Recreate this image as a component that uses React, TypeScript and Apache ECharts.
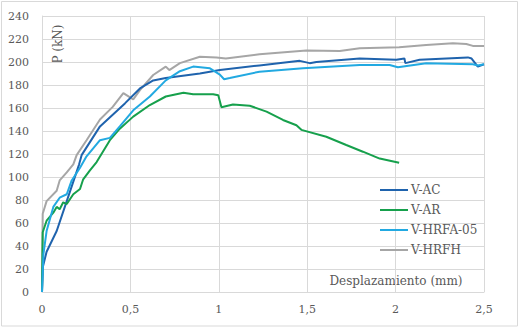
import React, { useEffect, useRef } from "react";
import * as echarts from "echarts";

const seriesNames = ["V-AC", "V-AR", "V-HRFA-05", "V-HRFH"];
const seriesColors = ["#1F63AD", "#16A04C", "#22A9E1", "#A6A6A6"];

const vAC: [number, number][] = [
  [0, 0], [0.005, 22], [0.026, 35], [0.083, 53], [0.14, 79], [0.21, 111], [0.224, 119],
  [0.328, 144], [0.469, 164], [0.554, 177], [0.629, 184], [0.70, 186], [0.893, 190],
  [1.006, 193], [1.23, 197], [1.458, 201], [1.514, 199], [1.552, 200], [1.797, 203],
  [2.004, 202], [2.05, 203], [2.055, 199], [2.136, 202], [2.409, 204], [2.43, 203],
  [2.465, 196], [2.5, 198],
];

const vAR: [number, number][] = [
  [0, 0], [0.004, 52], [0.026, 62], [0.064, 69], [0.083, 74], [0.10, 72], [0.12, 78],
  [0.14, 76.5], [0.177, 85], [0.215, 89.6], [0.233, 98], [0.27, 105.5], [0.309, 113],
  [0.384, 132], [0.44, 142], [0.516, 152.5], [0.61, 162.6], [0.70, 170], [0.80, 173.3],
  [0.855, 171.9], [0.968, 172], [0.997, 171], [1.015, 160.6], [1.08, 163], [1.175, 162],
  [1.27, 156.8], [1.363, 149.6], [1.439, 145], [1.467, 141], [1.608, 135], [1.721, 127.8],
  [1.815, 122], [1.91, 116], [2.02, 112.4],
];

const vHRFA05: [number, number][] = [
  [0, 0], [0.008, 33], [0.026, 53], [0.064, 74], [0.10, 82], [0.14, 85], [0.168, 97],
  [0.215, 108], [0.252, 118], [0.328, 132], [0.384, 134], [0.44, 144], [0.516, 158],
  [0.61, 170], [0.70, 184], [0.78, 192], [0.855, 196], [0.95, 194.5], [1.006, 189],
  [1.03, 185], [1.062, 186], [1.23, 191.6], [1.476, 194.5], [1.797, 197.4], [1.966, 197.4],
  [2.013, 195.4], [2.173, 199], [2.437, 198], [2.465, 197], [2.5, 198],
];

const vHRFH: [number, number][] = [
  [0, 0], [0.004, 68], [0.026, 79], [0.083, 88], [0.10, 97], [0.14, 104], [0.177, 111],
  [0.196, 119], [0.252, 132], [0.328, 150], [0.40, 161], [0.46, 173], [0.516, 167.5],
  [0.554, 175.6], [0.629, 188.7], [0.70, 196], [0.72, 193], [0.78, 199], [0.893, 204.6],
  [0.987, 204], [1.04, 203], [1.23, 206.7], [1.495, 210], [1.684, 209.6], [1.797, 212],
  [2.02, 212.8], [2.173, 214.8], [2.324, 216.2], [2.40, 215.7], [2.437, 214], [2.5, 214],
];

const seriesData = [vAC, vAR, vHRFA05, vHRFH];

const xMin = 0, xMax = 2.5, xStep = 0.5;
const yMin = 0, yMax = 240, yStep = 20;

const FONT = "DejaVu Serif";
const TEXT_COLOR = "#595959";
const GRID_COLOR = "#D9D9D9";

export default function App() {
  const ref = useRef<HTMLDivElement>(null);
  useEffect(() => {
    document.body.style.margin = "0";
    const chart = echarts.init(ref.current!, null, { renderer: "svg" });
    chart.setOption({
      animation: false,
      backgroundColor: "#FFFFFF",
      grid: { left: 42, right: 41, top: 16, bottom: 36 },
      xAxis: {
        type: "value",
        min: xMin,
        max: xMax,
        interval: xStep,
        axisLine: { show: true, lineStyle: { color: GRID_COLOR, width: 1 } },
        axisTick: { show: false },
        splitLine: { show: true, lineStyle: { color: GRID_COLOR, width: 1 } },
        axisLabel: {
          color: TEXT_COLOR,
          fontFamily: FONT,
          fontSize: 11,
          margin: 12,
          formatter: (v: number) => String(v).replace(".", ","),
        },
      },
      yAxis: {
        type: "value",
        min: yMin,
        max: yMax,
        interval: yStep,
        axisLine: { show: true, lineStyle: { color: GRID_COLOR, width: 1 } },
        axisTick: { show: false },
        splitLine: { show: true, lineStyle: { color: GRID_COLOR, width: 1 } },
        axisLabel: { color: TEXT_COLOR, fontFamily: FONT, fontSize: 11, margin: 13 },
      },
      legend: {
        orient: "vertical",
        left: 375,
        top: 179,
        itemWidth: 28,
        itemHeight: 2,
        itemGap: 8,
        icon: "rect",
        textStyle: { color: TEXT_COLOR, fontFamily: FONT, fontSize: 12, padding: [0, 0, 0, -2] },
        data: seriesNames,
      },
      graphic: [
        {
          type: "rect",
          silent: true,
          shape: { x: 1.5, y: 1.5, width: 516, height: 324.5 },
          style: { fill: "none", stroke: GRID_COLOR, lineWidth: 1 },
        },
        {
          type: "text",
          x: 58,
          y: 44,
          rotation: Math.PI / 2,
          style: {
            text: "P (kN)",
            fill: TEXT_COLOR,
            font: `12px '${FONT}'`,
            align: "center",
            verticalAlign: "middle",
          },
        },
        {
          type: "text",
          x: 396,
          y: 281,
          style: {
            text: "Desplazamiento (mm)",
            fill: TEXT_COLOR,
            font: `12px '${FONT}'`,
            align: "center",
            verticalAlign: "middle",
          },
        },
      ],
      series: seriesNames.map((name, i) => ({
        name,
        type: "line",
        data: seriesData[i],
        showSymbol: false,
        symbol: "none",
        color: seriesColors[i],
        lineStyle: { width: 2, color: seriesColors[i] },
        z: i === 3 ? 1 : 2 + i,
      })),
    });
    return () => chart.dispose();
  }, []);
  return <div ref={ref} style={{ width: 525, height: 328 }} />;
}
